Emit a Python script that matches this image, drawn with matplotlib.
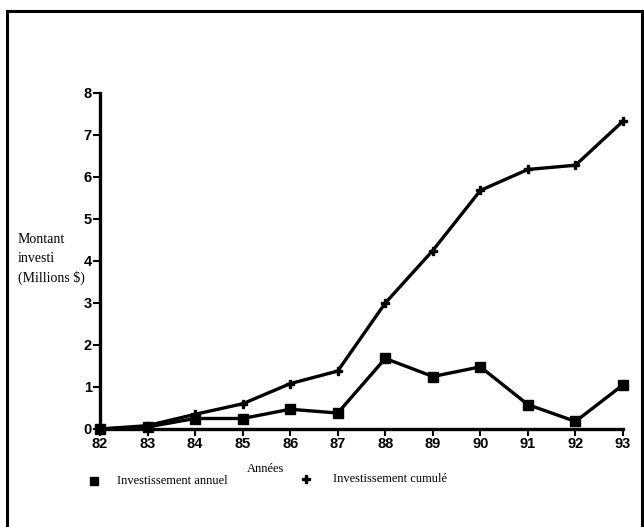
import matplotlib

matplotlib.use("Agg")
import matplotlib.pyplot as plt
from matplotlib.lines import Line2D

plt.rcParams["font.family"] = ["Liberation Sans", "DejaVu Sans"]

# annees 1982-1993 (etiquettes a deux chiffres)
years = [82, 83, 84, 85, 86, 87, 88, 89, 90, 91, 92, 93]
annuel = [0.0, 0.05, 0.25, 0.25, 0.47, 0.38, 1.68, 1.25, 1.48, 0.58, 0.18, 1.05]
cumule = [0.0, 0.08, 0.35, 0.6, 1.08, 1.38, 3.0, 4.25, 5.68, 6.18, 6.28, 7.33]
y_ticks = [0, 1, 2, 3, 4, 5, 6, 7, 8]

W, H = 644, 527
fig = plt.figure(figsize=(W / 100, H / 100), dpi=100)

# cadre autour de la figure
for xs, ys in [([7, 7], [11, H + 5]), ([7, 642], [11, 11]), ([642, 642], [11, H + 5])]:
    fig.add_artist(Line2D([x / W for x in xs], [1 - y / H for y in ys],
                          color="black", linewidth=2.2, transform=fig.transFigure))

ax = fig.add_axes([100 / W, 1 - 429 / H, (623 - 100) / W, (429 - 93) / H])
ax.plot(years, annuel, color="black", linewidth=2.4, marker="s", markersize=7,
        label="Investissement annuel", clip_on=False)
ax.plot(years, cumule, color="black", linewidth=2.4, marker="P", markersize=6,
        label="Investissement cumulé", clip_on=False)

ax.set_xlim(82, 93)
ax.set_ylim(0, 8)
ax.set_xticks(years)
ax.set_xticklabels([str(y) for y in years])
ax.set_yticks(y_ticks)
for side in ["top", "right"]:
    ax.spines[side].set_visible(False)
for side in ["left", "bottom"]:
    ax.spines[side].set_linewidth(2.4)
ax.tick_params(axis="both", direction="out", length=5, width=1.5, labelsize=10.5, pad=1)
for lab in ax.get_xticklabels() + ax.get_yticklabels():
    lab.set_fontweight("bold")

fig.text(18 / W, 1 - 259 / H, "Montant\ninvesti\n(Millions $)", fontsize=10,
         family="Liberation Serif", va="center", ha="left", linespacing=1.55)
fig.text(266 / W, 1 - 469 / H, "Années", fontsize=9, family="Liberation Serif",
         ha="center", va="center")

fig.add_artist(Line2D([94 / W], [1 - 481 / H], marker="s", markersize=6, color="black",
                      transform=fig.transFigure))
fig.text(117 / W, 1 - 481 / H, "Investissement annuel", fontsize=9,
         family="Liberation Serif", va="center")
fig.add_artist(Line2D([306 / W], [1 - 479 / H], marker="P", markersize=6, color="black",
                      transform=fig.transFigure))
fig.text(333 / W, 1 - 479 / H, "Investissement cumulé", fontsize=9,
         family="Liberation Serif", va="center")

fig.savefig("out.png", dpi=100)
